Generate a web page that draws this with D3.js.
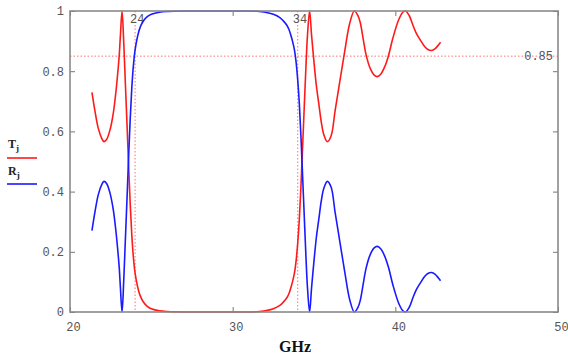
<!DOCTYPE html>
<html>
<head>
<meta charset="utf-8">
<script src="https://cdn.jsdelivr.net/npm/d3@7"></script>
<style>
  body { margin: 0; background: #fff; }
  svg { display: block; }
</style>
</head>
<body>
<div id="chart"></div>
<script>
// frequency (GHz), transmission T and reflection R
const freq = [21.35, 21.54, 21.74, 21.95, 22.09, 22.25, 22.46, 22.66, 22.83, 22.97,
  23.03, 23.1, 23.2, 23.3, 23.4, 23.5, 23.6, 23.7, 23.8, 23.9,
  24.0, 24.15, 24.3, 24.5, 24.75, 25.0, 25.5, 26.0, 27.0, 28.0,
  29.0, 30.0, 31.0, 31.5, 32.0, 32.5, 32.9, 33.1, 33.3, 33.45,
  33.6, 33.7, 33.8, 33.9, 34.0, 34.1, 34.2, 34.3, 34.4, 34.5,
  34.6, 34.73, 34.85, 35.0, 35.15, 35.3, 35.45, 35.6, 35.82, 36.05,
  36.3, 36.6, 36.9, 37.2, 37.48, 37.7, 37.85, 38.0, 38.2, 38.45,
  38.7, 38.89, 39.1, 39.35, 39.57, 39.85, 40.2, 40.45, 40.63, 40.85,
  41.1, 41.3, 41.52, 41.8, 42.0, 42.23, 42.45, 42.62, 42.78];

const trans = [0.73, 0.666, 0.61, 0.577, 0.566, 0.573, 0.605, 0.66, 0.735, 0.815,
  0.855, 0.92, 1.0, 0.9, 0.765, 0.63, 0.49, 0.36, 0.255, 0.18,
  0.13, 0.085, 0.056, 0.034, 0.019, 0.011, 0.004, 0.0015, 0, 0,
  0, 0, 0, 0.001, 0.004, 0.011, 0.022, 0.032, 0.045, 0.06,
  0.085, 0.105, 0.13, 0.17, 0.23, 0.31, 0.42, 0.55, 0.68, 0.81,
  0.92, 1.0, 0.92, 0.83, 0.75, 0.69, 0.63, 0.59, 0.566, 0.585,
  0.67, 0.77, 0.87, 0.96, 1.0, 0.985, 0.96, 0.915, 0.855, 0.81,
  0.787, 0.782, 0.79, 0.815, 0.85, 0.91, 0.97, 0.995, 1.0, 0.985,
  0.95, 0.925, 0.905, 0.882, 0.872, 0.869, 0.875, 0.885, 0.896];

const refl = [0.27, 0.334, 0.39, 0.423, 0.434, 0.427, 0.395, 0.34, 0.265, 0.185,
  0.145, 0.08, 0.0, 0.1, 0.235, 0.37, 0.51, 0.64, 0.745, 0.82,
  0.87, 0.915, 0.944, 0.966, 0.981, 0.989, 0.996, 0.9985, 1, 1,
  1, 1, 1, 0.999, 0.996, 0.989, 0.978, 0.968, 0.955, 0.94,
  0.915, 0.895, 0.87, 0.83, 0.77, 0.69, 0.58, 0.45, 0.32, 0.19,
  0.08, 0.0, 0.08, 0.17, 0.25, 0.31, 0.37, 0.41, 0.434, 0.415,
  0.33, 0.23, 0.13, 0.04, 0.0, 0.015, 0.04, 0.085, 0.145, 0.19,
  0.213, 0.218, 0.21, 0.185, 0.15, 0.09, 0.03, 0.005, 0.0, 0.015,
  0.05, 0.075, 0.095, 0.118, 0.128, 0.131, 0.125, 0.115, 0.104];

const xTicks = [20, 30, 40, 50];
const yTicks = [0, 0.2, 0.4, 0.6, 0.8, 1];
const markX = [24, 34];   // vertical marker lines
const markY = [0.85];     // horizontal marker line

// -----------------------------------------------
const W = 568, H = 356;
const margin = { top: 11, right: 10, bottom: 44, left: 70 };

const x = d3.scaleLinear().domain([20, 50]).range([margin.left, W - margin.right]);
const y = d3.scaleLinear().domain([0, 1]).range([H - margin.bottom, margin.top]);

const monoFont = '"Liberation Mono", "DejaVu Sans Mono", monospace';
const serifFont = '"Liberation Serif", "DejaVu Serif", serif';

const svg = d3.select('#chart').append('svg')
  .attr('width', W).attr('height', H)
  .attr('viewBox', [0, 0, W, H]);

// markers (dotted red)
svg.append('g')
  .attr('stroke', '#ff7070').attr('stroke-width', 1).attr('stroke-dasharray', '1.5,2')
  .call(g => g.selectAll('.mx').data(markX).join('line')
    .attr('x1', d => x(d)).attr('x2', d => x(d))
    .attr('y1', y(1)).attr('y2', y(0)))
  .call(g => g.selectAll('.my').data(markY).join('line')
    .attr('x1', x(20)).attr('x2', x(50))
    .attr('y1', d => y(d)).attr('y2', d => y(d)));

svg.append('g')
  .attr('font-family', monoFont).attr('font-size', 12).attr('fill', '#555')
  .call(g => g.selectAll('.lx').data(markX).join('text')
    .attr('x', d => x(d) - 5).attr('y', y(1) + 12)
    .text(d => d))
  .call(g => g.selectAll('.ly').data(markY).join('text')
    .attr('x', x(50) - 5).attr('y', d => y(d)).attr('dy', '0.35em')
    .attr('text-anchor', 'end')
    .text(d => d));

// curves
const line = (ys) => d3.line()
  .x((d, i) => x(freq[i]))
  .y((d, i) => y(ys[i]))
  .curve(d3.curveCatmullRom.alpha(0.5));

svg.append('path').datum(trans)
  .attr('fill', 'none').attr('stroke', '#ff1a1a').attr('stroke-width', 1.6)
  .attr('d', line(trans));
svg.append('path').datum(refl)
  .attr('fill', 'none').attr('stroke', '#1a1aff').attr('stroke-width', 1.6)
  .attr('d', line(refl));

// axes, ticks pointing inward
const styleAxis = g => {
  g.select('.domain').remove();
  g.selectAll('line').attr('stroke', '#777');
  g.selectAll('text').attr('fill', '#555').attr('font-family', monoFont).attr('font-size', 12);
};

svg.append('g')
  .attr('transform', `translate(0,${y(0)})`)
  .call(d3.axisBottom(x).tickValues(xTicks).tickSize(-5).tickPadding(10).tickFormat(d3.format('d')))
  .call(styleAxis)
  .call(g => g.selectAll('text').attr('dx', 3));

svg.append('g')
  .attr('transform', `translate(0,${y(1)})`)
  .call(d3.axisTop(x).tickValues(xTicks).tickSize(-5).tickFormat(''))
  .call(styleAxis);

svg.append('g')
  .attr('transform', `translate(${x(20)},0)`)
  .call(d3.axisLeft(y).tickValues(yTicks).tickSize(-5).tickPadding(6).tickFormat(d3.format('~g')))
  .call(styleAxis);

svg.append('g')
  .attr('transform', `translate(${x(50)},0)`)
  .call(d3.axisRight(y).tickValues(yTicks).tickSize(-5).tickFormat(''))
  .call(styleAxis);

// frame
svg.append('rect')
  .attr('x', x(20)).attr('y', y(1))
  .attr('width', x(50) - x(20)).attr('height', y(0) - y(1))
  .attr('fill', 'none').attr('stroke', '#8a8a8a').attr('stroke-width', 1.6);

// x title
svg.append('text')
  .attr('x', 295).attr('y', 352)
  .attr('text-anchor', 'middle')
  .attr('font-family', serifFont).attr('font-weight', 'bold').attr('font-size', 16)
  .attr('fill', '#111')
  .text('GHz');

// legend
const legend = [
  { name: 'T', color: '#ff1a1a', ty: 148, ly: 158 },
  { name: 'R', color: '#1a1aff', ty: 175, ly: 184 }
];
legend.forEach(d => {
  const t = svg.append('text')
    .attr('x', 8).attr('y', d.ty)
    .attr('font-family', serifFont).attr('font-weight', 'bold').attr('font-size', 12)
    .attr('fill', '#222')
    .text(d.name);
  t.append('tspan').attr('font-size', 9).attr('dy', 3).text('j');
  svg.append('line')
    .attr('x1', 7).attr('x2', 37).attr('y1', d.ly).attr('y2', d.ly)
    .attr('stroke', d.color).attr('stroke-width', 1.6);
});
</script>
</body>
</html>
